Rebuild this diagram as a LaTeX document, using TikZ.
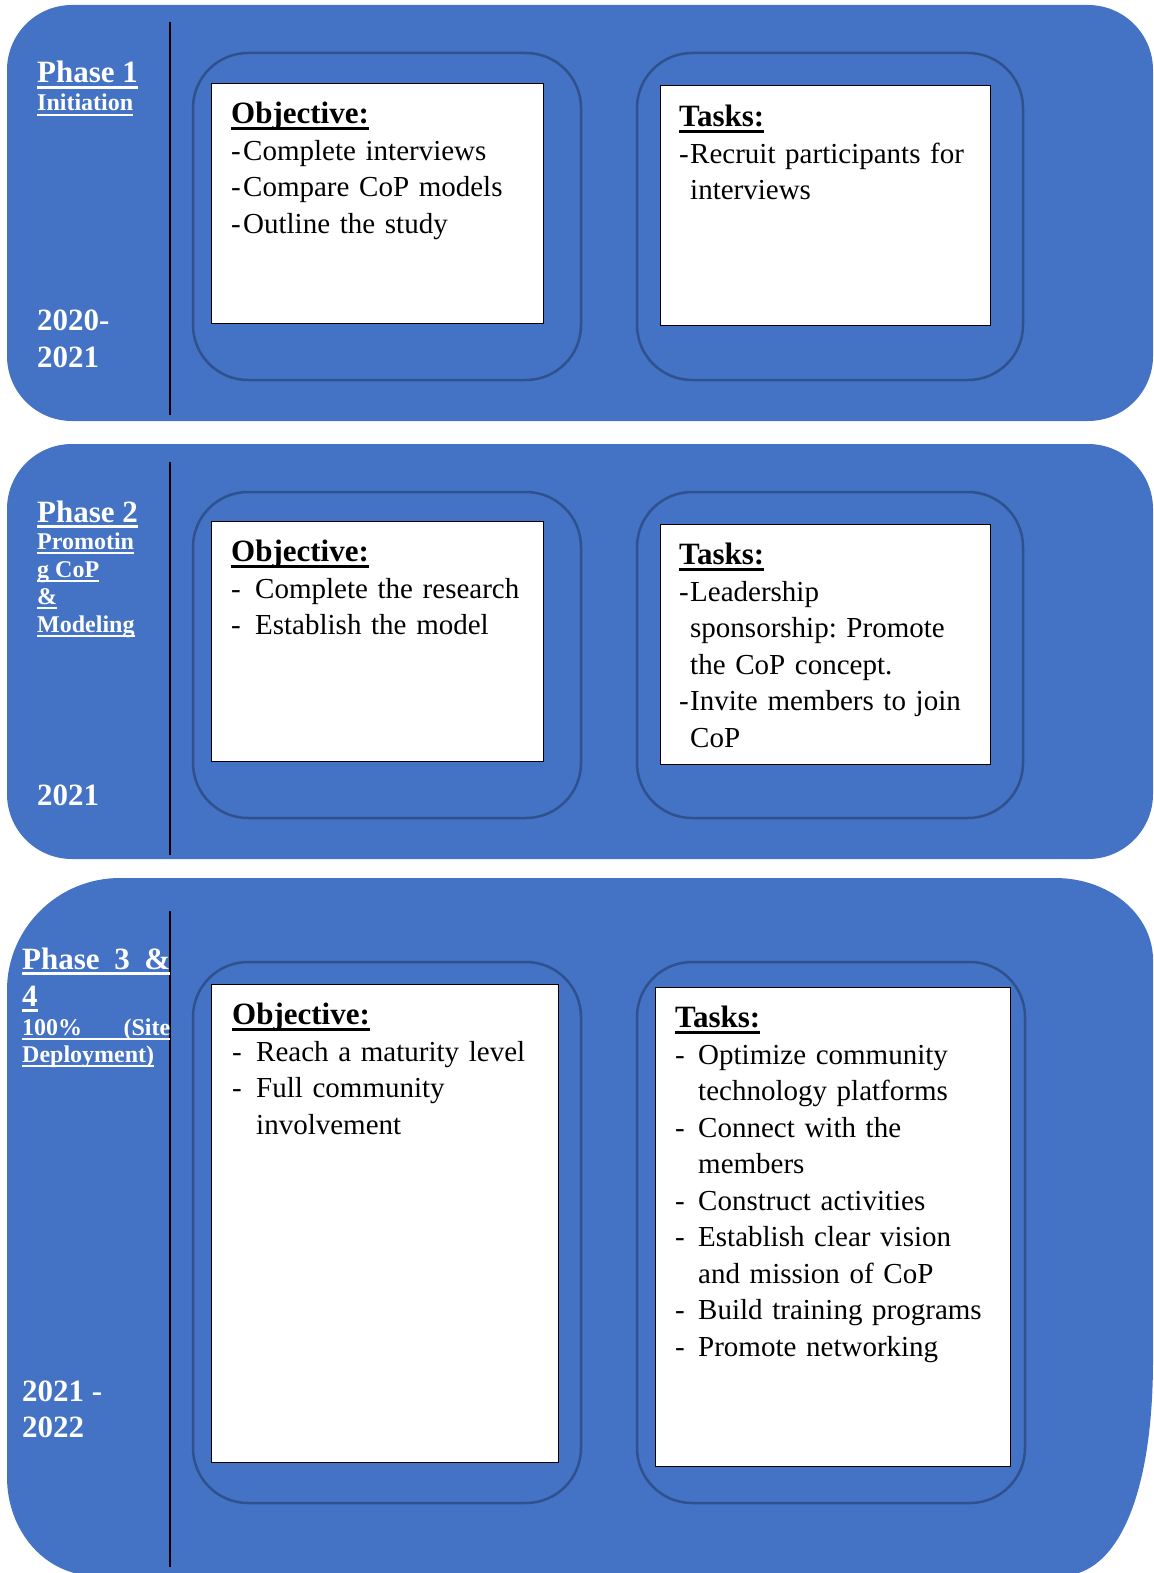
\documentclass[tikz,border=0pt]{standalone}
\usepackage{fontspec}
\setmainfont{Liberation Serif}
\usepackage{xcolor}
\usetikzlibrary{positioning}

\definecolor{panelblue}{HTML}{4472C4}
\definecolor{framecol}{HTML}{2F528F}

% underline drawn as a rule under the whole box
\newcommand\ulbox[1]{\leavevmode\setbox0\hbox{#1}\rlap{\rule[-0.2em]{\wd0}{0.09em}}\box0}
% dash item with hanging indent (\newline for the forced breaks)
\newcommand\itm[2]{\par\noindent\hangindent=#1\hangafter=1\makebox[#1][l]{-}#2}
\newcommand\bodyfont{\fontsize{29}{36.5}\selectfont}
\newcommand\headfont{\fontsize{31}{36.5}\selectfont\bfseries}
\newcommand\phasefont{\fontsize{31}{36}\selectfont\bfseries}
\newcommand\subfont{\fontsize{24}{27.5}\selectfont\bfseries}
\frenchspacing

\begin{document}
\begin{tikzpicture}[x=1pt, y=-1pt,
    panel/.style={fill=panelblue},
    frame/.style={draw=framecol, line width=2.5pt, rounded corners=55pt},
    whitebox/.style={draw=black, line width=1.2pt, fill=white, inner sep=0pt, anchor=north west},
    boxtext/.style={inner sep=0pt, text width=330pt, align=left, font=\bodyfont},
    phasetxt/.style={anchor=base west, inner sep=0pt, text=white, font=\phasefont},
    subtxt/.style={anchor=base west, inner sep=0pt, text=white, font=\subfont},
    divider/.style={line width=2.5pt, black}]
    \useasboundingbox (0,0) rectangle (1153,1573);

    % panels
    \fill[panel, rounded corners=65pt] (7,5) rectangle (1153,421);
    \fill[panel, rounded corners=65pt] (7,444) rectangle (1153,859);
    \fill[panel] (7,990) .. controls (7,929) and (57,878) .. (120,878) -- (1055,878)
        .. controls (1110,878) and (1153,915) .. (1153,960) -- (1153,1360)
        .. controls (1153,1490) and (1120,1576) .. (1060,1576) -- (97,1576)
        .. controls (44,1576) and (7,1530) .. (7,1477) -- cycle;

    \draw[divider] (170,22) -- (170,415);
    \draw[divider] (170,462) -- (170,855);
    \draw[divider] (170,911) -- (170,1567);

    \draw[frame] (193,53) rectangle (581,380);
    \draw[frame] (637,53) rectangle (1023,380);
    \draw[frame] (193,492) rectangle (581,818);
    \draw[frame] (637,492) rectangle (1023,818);
    \draw[frame] (193,962) rectangle (581,1503);
    \draw[frame] (637,962) rectangle (1025,1503);

    % phase 1
    \node[phasetxt] (ph1) at (37,83) {\ulbox{Phase 1}};
    \node[subtxt] (ph1sub) at (37,111) {\ulbox{Initiation}};
    \node[phasetxt] (yr1a) at (37,330) {2020-};
    \node[phasetxt] (yr1b) at (37,367) {2021};

    \node[whitebox, minimum width=332pt, minimum height=240pt] (obj1) at (211,83) {};
    \node[boxtext, below right=19pt and 20pt of obj1.north west] (objtxt1) {%
        \noindent{\headfont\ulbox{Objective:}}\par
        \itm{12pt}{Complete interviews}
        \itm{12pt}{Compare CoP models}
        \itm{12pt}{Outline the study}\par};
    \node[whitebox, minimum width=330pt, minimum height=240pt] (task1) at (660,85) {};
    \node[boxtext, below right=20pt and 19pt of task1.north west] (tasktxt1) {%
        \noindent{\headfont\ulbox{Tasks:}}\par
        \itm{11pt}{Recruit participants for\newline interviews}\par};

    % phase 2
    \node[phasetxt] (ph2) at (37,522) {\ulbox{Phase 2}};
    \node[subtxt] (ph2a) at (37,549) {\ulbox{Promotin}};
    \node[subtxt] (ph2b) at (37,577) {\ulbox{g CoP}};
    \node[subtxt] (ph2c) at (37,604) {\ulbox{\&}};
    \node[subtxt] (ph2d) at (37,632) {\ulbox{Modeling}};
    \node[phasetxt] (yr2) at (37,805) {2021};

    \node[whitebox, minimum width=332pt, minimum height=240pt] (obj2) at (211,521) {};
    \node[boxtext, below right=19pt and 20pt of obj2.north west] (objtxt2) {%
        \noindent{\headfont\ulbox{Objective:}}\par
        \itm{24pt}{Complete the research}
        \itm{24pt}{Establish the model}\par};
    \node[whitebox, minimum width=330pt, minimum height=240pt] (task2) at (660,524) {};
    \node[boxtext, below right=19pt and 19pt of task2.north west] (tasktxt2) {%
        \noindent{\headfont\ulbox{Tasks:}}\par
        \itm{11pt}{Leadership\newline sponsorship: Promote\newline the CoP concept.}
        \itm{11pt}{Invite members to join\newline CoP}\par};

    % phase 3 & 4
    \node[phasetxt] (ph3) at (22,969) {\ulbox{\makebox[148pt][s]{Phase 3 \&}}};
    \node[phasetxt] (ph3b) at (22,1006) {\ulbox{4}};
    \node[subtxt] (ph3c) at (22,1035) {\ulbox{\makebox[148pt][s]{100\% (Site}}};
    \node[subtxt] (ph3d) at (22,1062) {\ulbox{Deployment)}};
    \node[phasetxt] (yr3a) at (22,1401) {2021 -};
    \node[phasetxt] (yr3b) at (22,1437) {2022};

    \node[whitebox, minimum width=347pt, minimum height=478pt] (obj3) at (211,984) {};
    \node[boxtext, below right=19pt and 21pt of obj3.north west] (objtxt3) {%
        \noindent{\headfont\ulbox{Objective:}}\par
        \itm{24pt}{Reach a maturity level}
        \itm{24pt}{Full community\newline involvement}\par};
    \node[whitebox, minimum width=355pt, minimum height=479pt] (task3) at (655,987) {};
    \node[boxtext, below right=19pt and 20pt of task3.north west] (tasktxt3) {%
        \noindent{\headfont\ulbox{Tasks:}}\par
        \itm{23pt}{Optimize community\newline technology platforms}
        \itm{23pt}{Connect with the\newline members}
        \itm{23pt}{Construct activities}
        \itm{23pt}{Establish clear vision\newline and mission of CoP}
        \itm{23pt}{Build training programs}
        \itm{23pt}{Promote networking}\par};
\end{tikzpicture}
\end{document}
